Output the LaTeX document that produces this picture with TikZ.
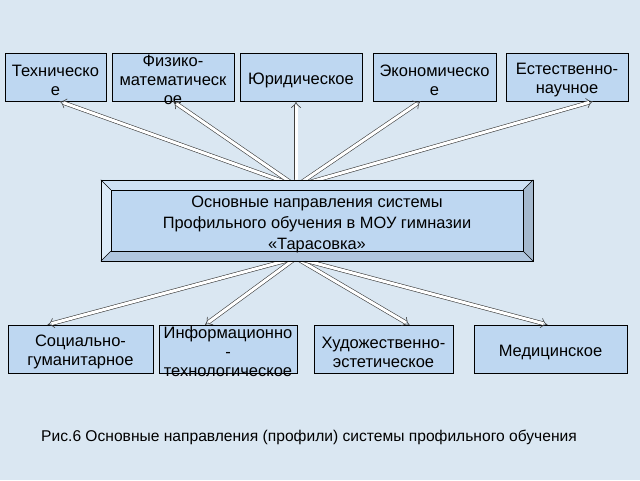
\documentclass[tikz,border=0pt]{standalone}
\usepackage{fontspec}
\setmainfont{Liberation Sans}
\usetikzlibrary{arrows.meta}
\definecolor{bgblue}{RGB}{218,231,242}
\definecolor{boxblue}{RGB}{190,215,241}
\definecolor{bevlight}{RGB}{220,235,249}
\definecolor{bevtop}{RGB}{206,225,245}
\definecolor{bevdark}{RGB}{165,185,206}
\definecolor{bevbot}{RGB}{176,198,222}
\tikzset{
  box/.style = {draw, fill = boxblue, line width = 0.6pt, minimum height = 48pt, inner sep = 0pt},
  lbl/.style = {align = center, font = \fontsize{16.5}{19}\selectfont, inner sep = 0pt},
  boxlbl/.style = {lbl, yshift = -3pt},
  dirarrow/.style = {draw = black!75, line width = 0.6pt, double = white, double distance = 3pt, -{Implies[scale = 1.5]}}
}
\begin{document}
\begin{tikzpicture}[x = 1pt, y = -1pt]
\fill[bgblue] (0,0) rectangle (640,480);
\useasboundingbox (0,0) rectangle (640,480);
% top directions
\node[box, minimum width = 101pt, label = {[boxlbl]center:Техническо\\е}] (tech) at (55.5,77) {};
\node[box, minimum width = 122pt, label = {[boxlbl]center:Физико-\\математическ\\ое}] (phys) at (173,77) {};
\node[box, minimum width = 122pt, label = {[boxlbl]center:Юридическое}] (law) at (301,77) {};
\node[box, minimum width = 123pt, label = {[boxlbl]center:Экономическо\\е}] (econ) at (434.5,77) {};
\node[box, minimum width = 122pt, label = {[boxlbl]center:Естественно-\\научное}] (nat) at (567,77) {};
% bottom directions
\node[box, minimum width = 145pt, label = {[boxlbl]center:Социально-\\гуманитарное}] (soc) at (80.5,349) {};
\node[box, minimum width = 138pt, label = {[boxlbl]center:Информационно\\-\\технологическое}] (info) at (228,349) {};
\node[box, minimum width = 139pt, label = {[boxlbl]center:Художественно-\\эстетическое}] (art) at (383.5,349) {};
\node[box, minimum width = 153pt, label = {[boxlbl]center:Медицинское}] (med) at (550.5,349) {};
% arrows
\coordinate (hubT) at (296,186);
\coordinate (hubB) at (296,258);
\draw[dirarrow] (hubT) -- ([xshift = 4pt]tech.south);
\draw[dirarrow] (hubT) -- (phys.south);
\draw[dirarrow] (hubT) -- (hubT |- law.south);
\draw[dirarrow] (hubT) -- ([xshift = -14pt]econ.south);
\draw[dirarrow] (hubT) -- ([xshift = 26pt]nat.south);
\draw[dirarrow] (hubB) -- ([xshift = -33pt]soc.north);
\draw[dirarrow] (hubB) -- ([xshift = -23pt]info.north);
\draw[dirarrow] (hubB) -- ([xshift = 26pt]art.north);
\draw[dirarrow] (hubB) -- ([xshift = -3pt]med.north);
% central bevelled box
\node[minimum width = 432pt, minimum height = 81pt, inner sep = 0pt] (main) at (317,220.5) {};
\coordinate (inNW) at ([xshift = 10pt, yshift = -10pt]main.north west);
\coordinate (inNE) at ([xshift = -10pt, yshift = -10pt]main.north east);
\coordinate (inSW) at ([xshift = 10pt, yshift = 10pt]main.south west);
\coordinate (inSE) at ([xshift = -10pt, yshift = 10pt]main.south east);
\fill[bevtop] (main.north west) -- (main.north east) -- (inNE) -- (inNW) -- cycle;
\fill[bevlight] (main.north west) -- (inNW) -- (inSW) -- (main.south west) -- cycle;
\fill[bevdark] (main.north east) -- (inNE) -- (inSE) -- (main.south east) -- cycle;
\fill[bevbot] (main.south west) -- (inSW) -- (inSE) -- (main.south east) -- cycle;
\draw[line width = 0.6pt, fill = boxblue] (inNW) rectangle (inSE);
\draw[line width = 0.6pt] (main.north west) rectangle (main.south east);
\draw[line width = 0.5pt] (main.north west) -- (inNW) (main.north east) -- (inNE)
  (main.south west) -- (inSW) (main.south east) -- (inSE);
\node[lbl, font = \fontsize{16.4}{21}\selectfont, yshift = -3.5pt] at (main) {Основные направления системы\\Профильного обучения в МОУ гимназии\\«Тарасовка»};
% caption
\node[lbl, font = \fontsize{15.6}{18}\selectfont] (caption) at (309,437) {Рис.6 Основные направления (профили) системы профильного обучения};
\end{tikzpicture}
\end{document}
